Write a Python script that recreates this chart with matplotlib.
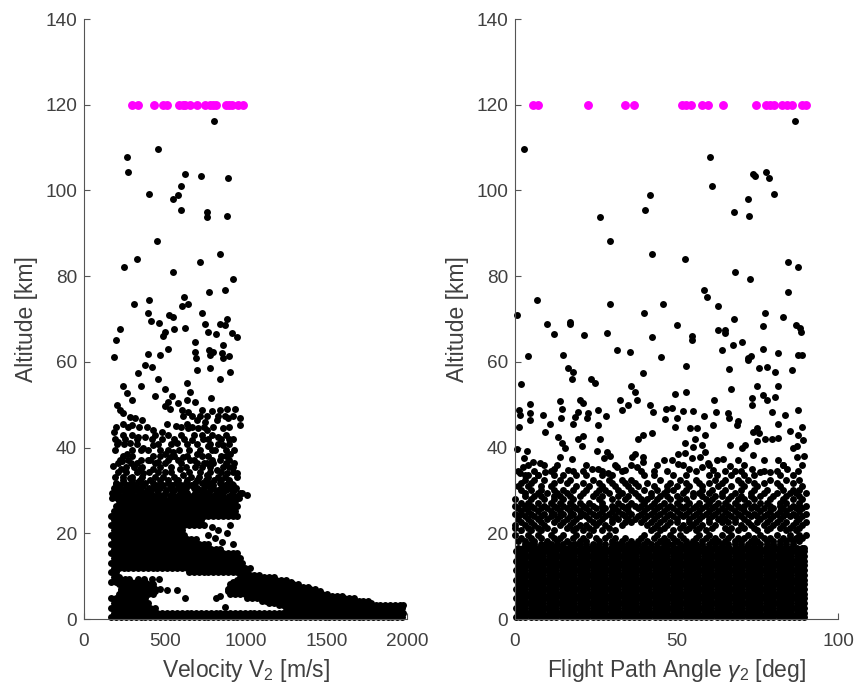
import matplotlib
matplotlib.use("Agg")
import matplotlib.pyplot as plt

plt.rcParams['font.family'] = ['Liberation Sans', 'DejaVu Sans']
plt.rcParams['mathtext.fontset'] = 'custom'
plt.rcParams['mathtext.rm'] = 'Liberation Sans'
plt.rcParams['mathtext.it'] = 'Liberation Sans:italic'
plt.rcParams['mathtext.default'] = 'regular'

# === Terminal points at 120 km ===
term_velocity = [299, 332, 433, 487, 516, 590, 610, 625, 656, 698, 749, 780, 800, 815, 879, 900, 918, 956, 982]
term_gamma = [5.7, 7.2, 22.7, 34.1, 36.7, 51.6, 53, 54.4, 57.8, 59.6, 64.3, 74.5, 77.6, 79, 80.2, 82.6, 84.1, 85.7, 88.8, 90.1]

# === Left panel: loose points read one by one ===
v_loose = [807, 456, 268, 272, 627, 726, 892, 600, 404, 584, 553, 600, 764, 760, 885, 454, 844, 326, 248, 718,
           551, 923, 873, 774, 617, 402, 309, 642, 605, 398, 728, 528, 549, 415, 464, 887, 747, 840, 873, 223,
           557, 625, 501, 768, 487, 815, 916, 949, 196, 689, 859, 518, 774, 687, 797, 394, 473, 852, 896, 188,
           780, 693, 859,
           378, 419, 336, 460, 698, 780, 904, 842, 636, 239, 351, 656, 501, 264, 440, 543, 786, 295, 522, 584,
           636, 687, 202, 501, 223, 243, 532, 605, 646, 728, 790, 842, 883, 935, 966, 285, 316, 357, 243, 295,
           388, 429, 512, 569, 636, 698, 749, 822, 894, 966, 186, 481, 646, 708, 760, 863, 254, 336, 378, 213,
           285, 666, 739, 832, 920, 574, 367, 429, 770, 863, 268, 398, 501, 553, 615, 698, 790, 904, 233, 182,
           227, 347, 398, 460, 532, 656, 760, 842, 925, 945, 367, 429, 501, 594, 687, 822, 883, 285, 615, 196,
           336, 760, 914, 976, 1007,
           790, 832, 904, 925, 852, 811, 770, 883, 820, 842, 873, 223, 254, 280, 336, 371, 419, 466, 512, 574, 625]
h_loose = [116.3, 109.7, 107.8, 104.4, 103.9, 103.4, 102.8, 101, 99.1, 99, 98, 95.5, 94.9, 93.8, 94.1, 88.3, 85.1, 83.9, 82.2, 83.2,
           81, 79.4, 76.8, 76.3, 75.2, 74.4, 73.4, 73.5, 73, 71.4, 71.3, 71, 70.4, 69.6, 69, 69.9, 68.8, 68.8, 68.6, 67.6,
           67.6, 67.9, 67, 67, 66, 66.4, 66.8, 65.8, 65, 64.7, 64, 63.1, 62.8, 62.2, 62.2, 61.8, 61.7, 62, 61.4, 61.2,
           61.6, 60.8, 60.9,
           59.3, 58.7, 57.5, 56, 58, 58.5, 57.7, 56.1, 55, 54.4, 54.4, 53, 53.6, 52.7, 52.1, 52, 51.5, 51, 50.7, 50.5,
           51, 50.7, 49.9, 49.7, 48.8, 48, 49.1, 48.8, 48.4, 48.8, 48.5, 48.8, 48.9, 49, 46.8, 47.2, 46.8, 46.4, 45.6, 45.3,
           44.9, 44.2, 45.6, 45.1, 45.6, 46.4, 46, 46.4, 46.8, 45.3, 43.6, 43.7, 44.5, 44.5, 44.1, 44.5, 42.1, 42.4, 42.4, 41.4,
           41, 41.8, 42.1, 42.5, 42.1, 41, 40, 40.6, 40.4, 40.6, 38.4, 39.4, 38.6, 39, 37.9, 38.6, 39.4, 38.6, 36.9, 35.8,
           35.1, 35.1, 37.1, 36.7, 37.9, 37.1, 36.3, 37.1, 35.5, 34, 34, 35.1, 34.4, 35.1, 35.5, 34.8, 34, 32.8, 33.6, 31.6,
           32, 33.6, 31.6, 29.4, 29,
           21.5, 20.7, 21.9, 17.6, 18, 18.8, 19.6, 20, 4.8, 5.3, 2.7, 9.3, 9.3, 9.3, 9.3, 9.3, 9.3, 9.3, 6.8, 6.8, 4.8]

# Rows with a few points each, between the loose points and the solid band
v_row_alt = [47.4, 44.8, 43, 41.9, 40.9, 39.5, 38, 37.2, 36.5, 35.5, 34.2, 33.2, 32.5, 31.8, 31.2, 30.6, 30, 29.4, 28.8, 28.2]
v_row_vals = [[610, 670, 720, 760, 830, 870, 920],
              [200, 270, 340, 600, 670, 740, 800, 900],
              [240, 300, 440, 520, 600, 680, 730, 790, 880],
              [190, 330, 420, 480, 560, 620, 770, 850, 900],
              [205, 250, 330, 460, 540, 640, 700, 780, 830, 900],
              [190, 300, 350, 470, 520, 590, 650, 720, 810, 880, 930],
              [240, 300, 430, 470, 560, 640, 730, 770, 850, 880],
              [220, 270, 350, 410, 520, 580, 680, 790, 900],
              [210, 290, 330, 440, 500, 600, 700, 740, 800, 880, 930],
              [260, 310, 360, 470, 540, 630, 730, 780, 860, 900],
              [210, 260, 330, 400, 460, 540, 650, 720, 780, 850, 920],
              [190, 240, 300, 360, 440, 490, 560, 660, 710, 770, 830, 870, 950],
              [240, 300, 345, 410, 470, 520, 580, 640, 700, 755, 805, 850, 900],
              [200, 250, 290, 380, 430, 470, 520, 570, 630, 690, 730, 780, 840, 890],
              [220, 265, 320, 365, 440, 490, 545, 600, 660, 760, 800, 870, 920],
              [185, 225, 260, 300, 350, 400, 430, 470, 530, 580, 630, 680, 700, 740, 800, 850, 900, 940],
              [200, 240, 280, 330, 390, 450, 510, 560, 610, 720, 780, 830, 880, 930],
              [175, 210, 255, 295, 340, 370, 415, 460, 500, 545, 595, 640, 690, 735, 770, 815, 860, 915, 965],
              [190, 225, 270, 310, 355, 400, 430, 480, 530, 575, 625, 670, 710, 750, 795, 840, 900, 950],
              [175, 205, 245, 285, 325, 370, 415, 450, 495, 555, 600, 650, 690, 730, 775, 815, 860, 885, 920, 960]]

# Too dense to read point by point: altitude of a row and the velocity span it covers
v_span_alt = [0.4, 1.5, 2.6, 2.6, 3.2, 3.7, 3.7, 4.2, 4.8, 4.8, 5.3, 5.9, 5.9, 6.5, 6.5, 7.0, 7.0, 7.5, 7.5, 8.1, 8.1, 8.7, 8.7, 9.2, 9.8, 9.8,
              10.3, 10.9, 10.9, 12.0, 13.1, 14.2, 15.3, 16.4, 17.5, 18.6, 19.7, 20.8, 21.9, 23.0, 24.1, 25.2, 26.3, 27.5]
v_span_lo = [170, 170, 170, 1250, 1200, 170, 1120, 1100, 170, 1010, 1000, 210, 900, 210, 880, 230, 870, 230, 880, 215, 890, 170, 900, 940, 170, 950,
             1000, 170, 650, 170, 170, 170, 170, 170, 170, 170, 170, 170, 170, 170, 170, 170, 180, 200]
v_span_hi = [1975, 1975, 450, 1975, 1975, 420, 1790, 1760, 400, 1670, 1600, 440, 1520, 440, 1480, 470, 1450, 430, 1400, 430, 1340, 400, 1300, 1250, 215, 1190,
             1090, 215, 1030, 1030, 1000, 980, 950, 870, 780, 720, 620, 620, 740, 730, 950, 960, 960, 960]
v_grid_a = [170, 200, 230, 260, 290, 320, 350, 380, 410, 440, 470, 500, 530, 560, 590, 620, 650, 680, 710, 740,
            770, 800, 830, 860, 890, 920, 950, 980, 1010, 1040, 1070, 1100, 1130, 1160, 1190, 1220, 1250, 1280, 1310, 1340,
            1370, 1400, 1430, 1460, 1490, 1520, 1550, 1580, 1610, 1640, 1670, 1700, 1730, 1760, 1790, 1820, 1850, 1880, 1910, 1940, 1970]
v_grid_b = [185, 215, 245, 275, 305, 335, 365, 395, 425, 455, 485, 515, 545, 575, 605, 635, 665, 695, 725, 755,
            785, 815, 845, 875, 905, 935, 965, 995, 1025, 1055, 1085, 1115, 1145, 1175, 1205, 1235, 1265, 1295, 1325, 1355,
            1385, 1415, 1445, 1475, 1505, 1535, 1565, 1595, 1625, 1655, 1685, 1715, 1745, 1775, 1805, 1835, 1865, 1895, 1925, 1955, 1975]

# === Right panel: loose points ===
g_loose = [86.7, 2.7, 60.4, 73.8, 74.3, 77.8, 78.5, 61, 80.2, 41.9, 72.2, 40.1, 67.8, 72.5, 26.2, 29.5, 42.4, 52.7, 84.6, 87.6,
           68, 72.9, 58.6, 84.6, 59.4, 6.7, 29.4, 45.7, 63, 0.7, 40, 77.4, 83.1, 67.9, 9.8, 17, 17, 50.3, 76.7, 87,
           88.2, 88.4, 12, 21.4, 28.6, 63, 65, 65, 42.5, 54.8, 54.7, 70.4, 67.6, 31.7, 35.5, 64.2, 76.8, 81.4, 15, 4.1,
           45.3, 73, 72, 87.7, 89,
           16.5, 18.1, 17.6, 23.4, 24.8, 1.8, 39.7, 53, 66.1, 75.6, 78.1, 80.5, 85.7, 72.2, 35.8, 37.2, 49.5, 52.8, 75, 81.3,
           66.9, 32.5, 37.7, 35.1, 33, 14, 20, 21.2, 61.7, 76.9, 78, 80.5, 73.5, 73.5, 4.7, 1.1, 1.6, 4.7, 4.7, 1.1,
           8.6, 10.8, 9.3, 14.5, 14.1, 19.6, 18.6, 17.9, 22.7, 22.4, 25.8, 28.1, 25.6, 41.8, 42.8, 46.6, 48.5, 46.4, 50.1, 49.5,
           52.1, 55, 58.5, 62.2, 65.8, 66.1, 69.1, 68.6, 61.4, 79.5, 83.6, 81.3, 87.7, 88.8, 85.1, 87.7,
           13.4, 19.6, 21, 20.6, 26.3, 14.5, 15.5, 14, 17.5, 25.3, 28.4, 27.4, 29.4, 38.2, 39.7, 42.5, 37.2, 36.1, 39.7, 54.2,
           56.2, 58.8, 55.7, 52.6, 57.8, 55.2, 66.6, 71.2, 70.2, 74.8, 73.8, 75.4, 74.8, 77.4, 79.5, 81.5, 89.3, 86.2, 87.2, 73.8,
           87.2, 89.5,
           0.5, 3.6, 2.8, 2.6, 5.7, 7.7, 9.3, 1.6, 3.1, 7.2, 12.1, 16.5, 15, 23.7, 25.8, 31.5, 34.1, 37.7, 28.9, 39.7,
           46, 48.5, 50.6, 52.6, 54.7, 57.3, 58.8, 50.6, 54, 57.8, 59.9, 62.4, 64.5, 66.6, 69.1, 62.4, 61.4, 73.3, 77.2, 81.3,
           75.9, 79, 83.1, 84.1, 87.7]
a_loose = [116.3, 109.7, 107.8, 103.9, 103.4, 104.4, 102.8, 101, 99.1, 99, 98, 95.5, 94.9, 94.1, 93.9, 88.3, 85.1, 83.9, 83.2, 82.2,
           81, 79.4, 76.8, 76.3, 75.2, 74.4, 73.4, 73.5, 73, 71, 71.3, 71.3, 70.5, 69.9, 68.8, 69.3, 68.9, 68.7, 68.4, 68.5,
           67.9, 67, 66.5, 66.3, 66.8, 67.5, 67.5, 66.8, 65.8, 66, 65, 64.7, 64, 62.8, 62.2, 62.7, 63.1, 62.1, 61.7, 61.4,
           61.2, 61.4, 60.8, 61.7, 61.7,
           58.5, 57.7, 56.1, 55.9, 55, 54.8, 57.5, 59.1, 58.3, 58.6, 58.7, 57.7, 58.1, 60.4, 54.4, 53, 52.4, 53, 54.4, 54.4,
           53.6, 51.2, 51.1, 50, 48.8, 50.9, 51.1, 50.5, 51, 52.3, 51.1, 51.9, 51.5, 49.9, 50.2, 48.8, 47.6, 48.1, 46.4, 44.9,
           47.6, 45.6, 43.7, 49.1, 47, 48.2, 47.2, 45.6, 48, 46.8, 48.8, 47.4, 45.3, 50, 48.4, 48.9, 49.3, 46.6, 46.8, 44.9,
           48.6, 48.6, 47.4, 48.2, 48, 47, 46.3, 45.3, 45.3, 48.4, 47.6, 45.6, 48.8, 44.9, 43.9, 42.9,
           42.5, 42.1, 42.7, 40.4, 41.9, 41, 39.8, 37.9, 37.3, 39.3, 39, 37.5, 38.1, 42.1, 42.9, 43.3, 38.6, 37.9, 37.9, 44.5,
           44.5, 42.9, 42.1, 41.1, 40.7, 40.2, 40.7, 40.6, 40, 44.5, 43.7, 43.3, 41.5, 41.9, 42.1, 42.3, 41.8, 39.8, 40.4, 38.3,
           37.9, 38,
           39.6, 39.3, 37.5, 35.5, 36.7, 36.3, 34.4, 34, 33.6, 33.6, 35.1, 34.8, 33.6, 34.9, 35.1, 35.4, 34.8, 35.5, 34, 36.7,
           37.1, 37.1, 38.6, 38.8, 37.5, 37.9, 39, 36.2, 35.1, 35.5, 36.3, 37.1, 37.3, 35.8, 37.1, 33.6, 34.8, 34.9, 37.1, 37.2,
           34.4, 34.4, 35.9, 35.1, 34.6]

# Rows of the broken band above the solid block
g_row_alt = [36, 34.6, 33.6, 32.5, 31.8, 31, 30.2, 29.5, 28.8, 28, 27, 26.4, 25.8, 25.2, 24.5, 24, 23.3, 22.7, 22, 21.3, 20.8, 19.5, 18.8, 18.3, 17.5]
g_row_vals = [[4, 9, 13, 22, 31, 36, 44, 52, 60, 71, 83, 89],
              [1, 6, 11, 18, 21, 27, 33, 39, 43, 47, 56, 65, 68, 70, 77, 81],
              [4, 7, 12, 19, 22, 27, 30, 40, 43, 49, 53, 60, 67, 71, 74, 82, 86],
              [3, 6, 9, 14, 17, 24, 29, 33, 36, 45, 51, 56, 62, 65, 69, 72, 79, 84, 88],
              [2, 5, 12, 16, 21, 26, 30, 34, 37, 41, 48, 53, 57, 60, 64, 70, 74, 77, 81, 86],
              [1, 4, 8, 11, 19, 23, 27, 31, 35, 38, 43, 47, 50, 54, 58, 63, 67, 71, 75, 82, 89],
              [2, 5, 8, 12, 15, 18, 22, 26, 28, 32, 36, 40, 44, 47, 49, 53, 58, 61, 65, 70, 74, 78, 83, 86, 88],
              [3, 7, 10, 13, 16, 21, 25, 29, 33, 37, 42, 46, 52, 55, 57, 60, 64, 68, 73, 77, 81, 85, 87, 90],
              [3, 6, 8, 12, 14, 17, 20, 24, 27, 32, 35, 38, 42, 45, 47, 50, 55, 58, 62, 64, 67, 70, 73, 76, 80, 84, 88],
              [0, 5, 9, 12, 15, 18, 26, 30, 34, 39, 41, 44, 48, 51, 53, 59, 61, 66, 69, 71, 74, 79, 83, 86, 89],
              [2, 4, 7, 11, 14, 17, 20, 23, 27, 32, 36, 40, 43, 46, 50, 54, 57, 60, 63, 65, 68, 72, 76, 78, 82, 84, 88],
              [0, 3, 5, 9, 12, 15, 18, 21, 24, 27, 30, 33, 35, 37, 39, 42, 45, 48, 51, 53, 56, 59, 62, 66, 69, 71, 74, 79, 82, 86, 88, 90],
              [1, 3, 6, 8, 10, 13, 16, 19, 22, 25, 28, 31, 34, 38, 41, 44, 47, 49, 52, 55, 58, 61, 64, 67, 70, 73, 75, 77, 80, 83, 85, 87, 89],
              [2, 4, 7, 11, 14, 17, 20, 23, 27, 30, 32, 35, 40, 43, 46, 50, 54, 57, 60, 63, 65, 68, 71, 76, 79, 82, 84, 88],
              [0, 2, 5, 9, 12, 15, 18, 21, 24, 26, 29, 33, 36, 39, 42, 45, 48, 51, 53, 56, 59, 62, 66, 69, 72, 74, 78, 81, 84, 86, 90],
              [1, 3, 6, 8, 11, 14, 17, 20, 22, 25, 28, 31, 34, 38, 41, 44, 47, 49, 52, 55, 58, 61, 64, 67, 70, 73, 75, 77, 80, 83, 85, 87, 89],
              [1, 4, 7, 10, 13, 16, 19, 23, 27, 30, 32, 35, 37, 40, 43, 46, 50, 54, 57, 60, 63, 65, 68, 71, 76, 79, 82, 88],
              [2, 5, 8, 12, 15, 18, 24, 26, 30, 34, 36, 39, 42, 45, 48, 50, 54, 56, 60, 64, 66, 68, 72, 75, 78, 81, 84, 87, 90],
              [0, 3, 6, 9, 14, 17, 20, 22, 25, 28, 33, 41, 44, 47, 52, 55, 58, 62, 70, 73, 77, 80, 83, 86, 89],
              [0, 4, 7, 10, 16, 19, 23, 29, 43, 46, 51, 54, 57, 61, 65, 67, 71, 74, 79, 82, 85, 88],
              [2, 5, 8, 12, 18, 21, 24, 27, 31, 42, 45, 49, 53, 56, 59, 66, 69, 75, 78, 84, 87],
              [0, 4, 7, 11, 15, 19, 23, 29, 40, 44, 48, 51, 57, 60, 64, 67, 72, 76, 81, 85, 88, 90],
              [2, 5, 8, 12, 14, 18, 21, 25, 28, 31, 34, 39, 43, 46, 49, 52, 56, 59, 62, 66, 69, 71, 74, 77, 79, 83, 85, 87, 89],
              [1, 3, 6, 10, 13, 16, 20, 22, 26, 30, 33, 36, 38, 41, 45, 47, 50, 53, 55, 58, 61, 63, 65, 68, 70, 73, 75, 78, 80, 82, 84, 86, 88],
              [3, 4.5, 6, 8, 9.5, 11, 13, 15, 17, 18.5, 20, 22, 24, 26, 28, 30, 31.5, 33, 35, 36.5, 38, 40, 42, 44, 46, 47.5, 49, 51, 53, 54.5,
               56, 58, 60, 62, 64, 66, 68, 70, 72, 74, 76, 78, 80, 82, 84, 86]]

# Solid block, fully overlapped so single points can't be read
g_block_alt = [0.4, 1.5, 2.6, 3.7, 4.8, 5.9, 7.0, 8.1, 9.2, 10.3, 11.4, 12.5, 13.6, 14.7, 15.8, 16.6]
g_grid_a = [0.3, 1.6, 3.2, 4.8, 6.4, 8, 9.6, 11.2, 12.8, 14.4, 16, 17.6, 19.2, 20.8, 22.4, 24, 25.6, 27.2, 28.8, 30.4,
            32, 33.6, 35.2, 36.8, 38.4, 40, 41.6, 43.2, 44.8, 46.4, 48, 49.6, 51.2, 52.8, 54.4, 56, 57.6, 59.2, 60.8, 62.4,
            64, 65.6, 67.2, 68.8, 70.4, 72, 73.6, 75.2, 76.8, 78.4, 80, 81.6, 83.2, 84.8, 86.4, 88, 89.6]
g_grid_b = [0.8, 2.4, 4, 5.6, 7.2, 8.8, 10.4, 12, 13.6, 15.2, 16.8, 18.4, 20, 21.6, 23.2, 24.8, 26.4, 28, 29.6, 31.2,
            32.8, 34.4, 36, 37.6, 39.2, 40.8, 42.4, 44, 45.6, 47.2, 48.8, 50.4, 52, 53.6, 55.2, 56.8, 58.4, 60, 61.6, 63.2,
            64.8, 66.4, 68, 69.6, 71.2, 72.8, 74.4, 76, 77.6, 79.2, 80.8, 82.4, 84, 85.6, 87.2, 88.8, 89.6]

# === Assemble the points ===
v_pts = list(v_loose)
h_pts = list(h_loose)
for alt, vals in zip(v_row_alt, v_row_vals):
    v_pts += vals
    h_pts += [alt] * len(vals)
for i, alt in enumerate(v_span_alt):
    grid = v_grid_b if round(alt / 1.1) % 2 else v_grid_a
    vals = [v for v in grid if v_span_lo[i] <= v <= v_span_hi[i]]
    v_pts += vals
    h_pts += [alt] * len(vals)

g_pts = list(g_loose)
a_pts = list(a_loose)
for alt, vals in zip(g_row_alt, g_row_vals):
    g_pts += vals
    a_pts += [alt] * len(vals)
for i, alt in enumerate(g_block_alt):
    vals = g_grid_b if i % 2 else g_grid_a
    g_pts += vals
    a_pts += [alt] * len(vals)

# === Plotting ===
W, H = 858, 693
fig = plt.figure(figsize=(W / 100, H / 100), dpi=100)
ax1 = fig.add_axes([84 / W, (H - 619) / H, 323 / W, 600 / H])
ax2 = fig.add_axes([515 / W, (H - 619) / H, 323 / W, 600 / H])

ax1.plot(v_pts, h_pts, 'o', color='black', ms=5, mew=0, clip_on=False)
ax1.plot(term_velocity, [120] * len(term_velocity), 'o', color='#ff00ff', ms=6.4, mew=0, clip_on=False)
ax2.plot(g_pts, a_pts, 'o', color='black', ms=5, mew=0, clip_on=False)
ax2.plot(term_gamma, [120] * len(term_gamma), 'o', color='#ff00ff', ms=6.4, mew=0, clip_on=False)

ax1.set_xlim(0, 2000)
ax1.set_xticks([0, 500, 1000, 1500, 2000])
ax1.set_xlabel('Velocity V$_2$ [m/s]', fontsize=16.5, color='#404040', labelpad=5)
ax2.set_xlim(0, 100)
ax2.set_xticks([0, 50, 100])
ax2.set_xlabel(r'Flight Path Angle $\mathit{\gamma}_2$ [deg]', fontsize=16.5, color='#404040', labelpad=5)

for ax in (ax1, ax2):
    ax.set_ylim(0, 140)
    ax.set_yticks(range(0, 141, 20))
    ax.set_ylabel('Altitude [km]', fontsize=16.5, color='#404040', labelpad=5)
    ax.spines['top'].set_visible(False)
    ax.spines['right'].set_visible(False)
    ax.spines['left'].set_color('#555555')
    ax.spines['bottom'].set_color('#555555')
    ax.tick_params(direction='in', length=4.5, width=0.8, color='#555555', labelcolor='#404040', labelsize=13.7, pad=5)
    ax.tick_params(axis='x', pad=10)

plt.savefig("out.png", dpi=100)
